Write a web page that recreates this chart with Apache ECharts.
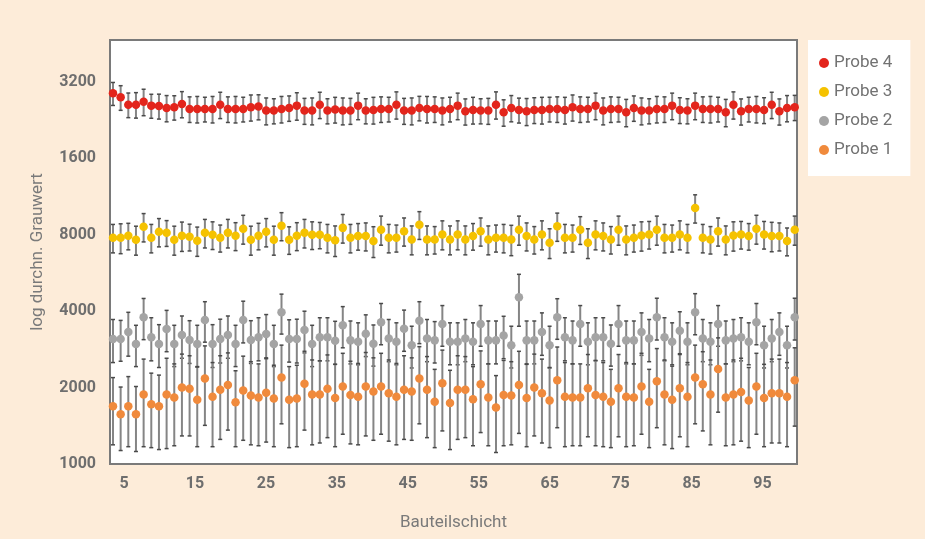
<!DOCTYPE html>
<html>
<head>
<meta charset="utf-8">
<script src="https://cdn.jsdelivr.net/npm/echarts@6/dist/echarts.min.js"></script>
<style>
html,body{margin:0;padding:0;background:#fdecd9;}
#chart{width:925px;height:539px;}
</style>
</head>
<body>
<div id="chart"></div>
<script>
// ---- data ----
const seriesNames = ['Probe 4', 'Probe 3', 'Probe 2', 'Probe 1'];
const xTickValues = [5, 15, 25, 35, 45, 55, 65, 75, 85, 95];
const yTickLabels = ['1000', '2000', '4000', '8000', '1600', '3200'];

const probe4 = [28870,27850,26060,26060,26770,25830,25760,25300,25450,26230,
25070,25070,25070,25070,26060,25070,25070,25070,25450,25600,
24690,24690,25070,25300,25830,24690,24690,26060,24690,24950,
24690,24690,25830,24690,24850,25070,25070,26060,24690,24690,
25300,25070,25070,24690,25070,25830,24550,24850,24690,24690,
26060,24330,25300,24850,24550,24850,24850,25070,25070,24850,
25450,25070,25070,25830,24690,25070,25070,24330,25300,24690,
24690,25070,25070,25830,24850,24690,25830,25070,25070,25070,
24330,26060,24550,25070,25070,24850,26060,24550,25300,25450];
const probe4Err = [3000,3100,2900,3000,3200,2800,2900,3000,2800,3100,
2900,3000,2800,3000,3100,2900,3000,2800,3000,2900,
3000,2800,3000,2900,3200,2900,3000,3100,2800,2900,
3000,2900,3100,2800,3000,2900,2800,3200,2900,3000,
2800,3000,2900,3000,2800,3100,2900,3000,2800,2900,
3200,2900,3000,2800,3000,2900,3000,2800,2900,3000,
3000,2900,2800,3100,3000,2900,2800,3000,2900,3000,
2800,3000,2900,3100,2900,2800,3100,2900,3000,2800,
3000,3200,2900,2800,3000,2900,3100,2900,3000,2900];

const probe3 = [7790,7790,7930,7650,8600,7790,8220,8150,7650,7930,
7860,7580,8150,8000,7790,8150,7930,8450,7650,7930,
8220,7650,8680,7650,7930,8150,8000,8000,7790,7620,
8520,7790,7910,7910,7560,8380,7790,7790,8270,7670,
8770,7670,7670,8030,7670,8030,7670,7910,8270,7670,
7790,7790,7670,8380,7910,7670,8030,7450,8640,7790,
7790,8380,7450,8030,7910,7670,8380,7670,7790,7950,
8030,8380,7790,7790,8030,7790,10200,7790,7670,8270,
7670,7950,8030,7910,8450,8030,7910,7910,7560,8380];
const probe3Err = [1000,1050,950,1000,1100,1000,1050,950,1000,1050,
950,1000,1050,1000,950,1050,1000,1100,1000,950,
1050,1000,1100,950,1000,1050,1000,950,1000,1050,
1100,1000,950,1000,1050,1100,1000,950,1050,1000,
1100,1000,950,1050,1000,1050,1000,950,1050,1000,
950,1000,1050,1100,1000,950,1050,1000,1100,1000,
950,1050,1000,1050,1000,950,1100,1000,950,1050,
1000,1100,1000,950,1050,1000,1300,1000,950,1050,
1000,1050,1000,950,1100,1000,1050,1000,950,1100];

const probe2 = [3110,3110,3310,2970,3790,3160,2970,3400,2970,3220,
3080,2970,3690,2970,3110,3220,2970,3690,3080,3160,
3250,2970,3960,3110,3110,3370,2970,3160,3160,3060,
3520,3070,3030,3260,2980,3620,3120,3030,3410,2940,
3670,3120,3070,3560,3030,3030,3120,3030,3560,3070,
3070,3210,2940,4540,3070,3070,3310,2940,3790,3160,
3070,3560,3030,3160,3160,2980,3560,3070,3070,3310,
3120,3790,3160,3030,3350,3030,3960,3120,3030,3560,
3070,3120,3160,3030,3620,2940,3120,3310,2940,3790];
const probe2Err = [600,570,650,550,700,610,570,630,550,610,
590,550,670,570,610,610,550,690,590,610,
630,550,710,590,610,630,550,610,610,590,
650,590,570,610,550,670,590,570,630,550,
690,590,570,650,570,570,590,570,650,590,
590,610,550,1050,590,590,630,550,690,610,
590,650,570,610,610,550,650,590,590,630,
590,710,610,570,630,570,730,590,570,650,
590,590,610,570,670,550,590,630,550,710];

const probe1 = [1690,1570,1690,1570,1880,1720,1690,1880,1830,2000,
1980,1790,2170,1840,1960,2050,1750,1950,1860,1830,
1910,1810,2190,1790,1810,2070,1880,1880,1980,1820,
2020,1870,1840,2020,1930,2020,1900,1840,1960,1930,
2170,1960,1760,2080,1740,1960,1960,1800,2060,1830,
1670,1870,1860,2050,1820,2000,1900,1780,2140,1840,
1830,1830,1990,1870,1840,1760,1990,1840,1830,2020,
1760,2120,1880,1790,1990,1840,2190,2060,1880,2370,
1830,1880,1920,1780,2020,1820,1900,1900,1840,2140];
const probe1Err = [500,440,520,450,710,560,550,730,650,710,
690,620,750,670,710,690,580,710,670,650,
690,640,750,630,640,710,690,670,710,650,
710,670,650,730,690,710,670,650,710,690,
730,690,600,730,600,710,690,620,730,650,
560,690,670,730,650,710,690,620,750,670,
650,650,710,690,670,600,710,670,650,710,
600,730,690,640,710,670,750,710,690,770,
650,690,690,620,710,650,690,690,670,730];

const colors = ['#e3251c', '#f5c200', '#a4a4a4', '#f08a3c'];

// ---- build ----
const toLog = v => Math.log2(v / 1000);
const groups = [
  [probe4, probe4Err], [probe3, probe3Err], [probe2, probe2Err], [probe1, probe1Err]
];

const series = [];
groups.forEach(([vals, errs], k) => {
  series.push({
    type: 'custom',
    xAxisIndex: 1,
    z: 1,
    silent: true,
    data: vals.map((v, i) => [i, toLog(v - errs[i]), toLog(v + errs[i])]),
    encode: { x: 0, y: [1, 2] },
    renderItem: function (params, api) {
      const x = api.value(0);
      const lo = api.coord([x, api.value(1)]);
      const hi = api.coord([x, api.value(2)]);
      const cw = 2;
      return {
        type: 'group',
        children: [
          { type: 'line', shape: { x1: lo[0], y1: lo[1], x2: hi[0], y2: hi[1] },
            style: { stroke: '#858585', lineWidth: 2 } },
          { type: 'line', shape: { x1: lo[0] - cw, y1: lo[1], x2: lo[0] + cw, y2: lo[1] },
            style: { stroke: '#4a4a4a', lineWidth: 1.5 } },
          { type: 'line', shape: { x1: hi[0] - cw, y1: hi[1], x2: hi[0] + cw, y2: hi[1] },
            style: { stroke: '#4a4a4a', lineWidth: 1.5 } }
        ]
      };
    }
  });
});
groups.forEach(([vals], k) => {
  series.push({
    name: seriesNames[k],
    type: 'scatter',
    xAxisIndex: 1,
    z: 3,
    symbol: 'circle',
    symbolSize: 8.5,
    itemStyle: { color: colors[k], opacity: 1 },
    data: vals.map((v, i) => [i, toLog(v)])
  });
});

const chart = echarts.init(document.getElementById('chart'));
chart.setOption({
  animation: false,
  backgroundColor: '#fdecd9',
  textStyle: { fontFamily: 'Roboto' },
  grid: {
    left: 110, right: 128, top: 40, bottom: 75,
    show: true, backgroundColor: '#ffffff', borderColor: '#7a7a7a', borderWidth: 2
  },
  legend: {
    orient: 'vertical',
    left: 808, top: 40,
    padding: [14, 18, 17, 11],
    backgroundColor: '#ffffff',
    icon: 'circle',
    itemWidth: 10, itemHeight: 10, itemGap: 11,
    selectedMode: false,
    textStyle: { fontSize: 17, color: '#727272', lineHeight: 18, fontFamily: 'Roboto' },
    data: seriesNames
  },
  xAxis: [
    {
      type: 'value', min: 3.03, max: 99.86,
      axisLine: { show: false }, axisTick: { show: false }, splitLine: { show: false },
      axisLabel: { customValues: xTickValues, fontSize: 16, fontWeight: 'bold', color: '#6e6e6e', margin: 12 },
      name: 'Bauteilschicht', nameLocation: 'middle', nameGap: 50,
      nameTextStyle: { fontSize: 17, color: '#7a7a7a' }
    },
    { type: 'value', min: -0.39, max: 89.3, show: false }
  ],
  yAxis: {
    type: 'value', min: 0, max: 5.55, interval: 1,
    axisLine: { show: false }, axisTick: { show: false }, splitLine: { show: false },
    axisLabel: {
      fontSize: 16, fontWeight: 'bold', color: '#6e6e6e', margin: 14,
      formatter: v => (Math.abs(v - Math.round(v)) < 0.01 ? (yTickLabels[Math.round(v)] || '') : '')
    },
    name: 'log durchn. Grauwert', nameLocation: 'middle', nameGap: 64,
    nameTextStyle: { fontSize: 17, color: '#7a7a7a' }
  },
  series: series
});
</script>
</body>
</html>
